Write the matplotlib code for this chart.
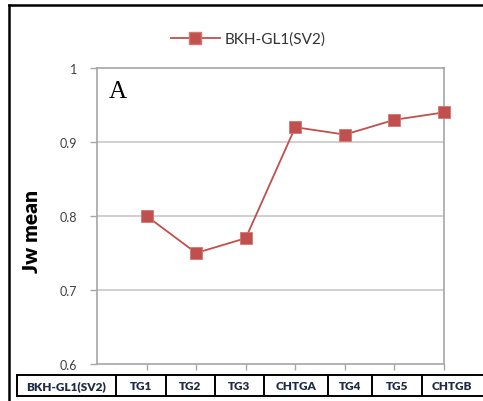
import matplotlib
matplotlib.use("Agg")
import matplotlib.pyplot as plt
from matplotlib.lines import Line2D

# data
series_name = "BKH-GL1(SV2)"
categories = ["TG1", "TG2", "TG3", "CHTGA", "TG4", "TG5", "CHTGB"]
jw_mean = [0.80, 0.75, 0.77, 0.92, 0.91, 0.93, 0.94]
y_ticks = [0.6, 0.7, 0.8, 0.9, 1.0]
y_tick_labels = ["0.6", "0.7", "0.8", "0.9", "1"]

W, H = 483, 402
red = "#c0504d"
axis_gray = "#a6a6a6"

fig = plt.figure(figsize=(W / 100, H / 100), dpi=100)

def fx(px):
    return px / W

def fy(py):
    return 1 - py / H

# plot area in pixels
left, right, top, bottom = 97, 444, 69, 365
ax = fig.add_axes([fx(left), fy(bottom), fx(right - left), fy(top) - fy(bottom)])

xs = list(range(1, len(categories) + 1))
ax.plot(xs, jw_mean, color=red, linewidth=1.3, marker="s", markersize=8.5,
        markerfacecolor=red, markeredgecolor="#d9746f", markeredgewidth=0.6,
        label=series_name, zorder=3, clip_on=False)

ax.set_xlim(0, len(categories))
ax.set_ylim(0.6, 1.0)
ax.set_yticks(y_ticks)
ax.set_yticklabels(y_tick_labels, fontfamily="Lato", fontsize=9, color="#404040")
ax.set_xticks(xs)
ax.set_xticklabels([])
ax.tick_params(axis="y", direction="out", length=5, width=1, color=axis_gray, pad=9)
ax.tick_params(axis="x", direction="out", length=4, width=1, color=axis_gray)

for y in y_ticks[1:-1]:
    ax.axhline(y, color="#c8c8c8", linewidth=1.2, zorder=1)
for s in ax.spines.values():
    s.set_color(axis_gray)
    s.set_linewidth(1.2)

ax.set_ylabel("Jw mean", fontfamily="Lato", fontweight="heavy", fontsize=15,
              color="#000000")
ax.yaxis.set_label_coords((41 - left) / (right - left), 0.45)

ax.text(0.035, 0.96, "A", transform=ax.transAxes, fontfamily="Liberation Serif",
        fontsize=18, va="top", ha="left", color="#000000")

# legend on top
handle = Line2D([], [], color=red, linewidth=1.3, marker="s", markersize=8.5,
                markerfacecolor=red, markeredgecolor="#d9746f")
fig.legend([handle], [series_name], loc="center", bbox_to_anchor=(fx(248), fy(40)),
           frameon=False, handlelength=3.2, handletextpad=0.3,
           prop={"family": "Lato", "size": 11}, labelcolor="#333333")

# outer frame
fig.add_artist(Line2D([fx(9), fx(9)], [fy(6), fy(410)], color="black", linewidth=1.8))
fig.add_artist(Line2D([fx(9), fx(490)], [fy(6), fy(6)], color="black", linewidth=1.8))

# data table row under the chart
edges = [17, 116, 166, 215, 264, 328, 372, 422, 495]
t_top, t_bot = 376, 397
cells = [series_name] + categories
for x in edges:
    fig.add_artist(Line2D([fx(x), fx(x)], [fy(t_top), fy(t_bot)], color="black", linewidth=1.4))
fig.add_artist(Line2D([fx(edges[0]), fx(edges[-1])], [fy(t_top), fy(t_top)], color="black", linewidth=1.4))
fig.add_artist(Line2D([fx(edges[0]), fx(edges[-1])], [fy(t_bot), fy(t_bot)], color="black", linewidth=1.4))
for i, label in enumerate(cells):
    cx = (edges[i] + edges[i + 1]) / 2
    if i == len(cells) - 1:
        cx = edges[i] + 30
    fig.text(fx(cx), fy((t_top + t_bot) / 2), label, ha="center", va="center",
             fontfamily="Lato", fontweight="heavy", fontsize=8.5, color="#1f2a44")

fig.savefig("out.png", dpi=100)
